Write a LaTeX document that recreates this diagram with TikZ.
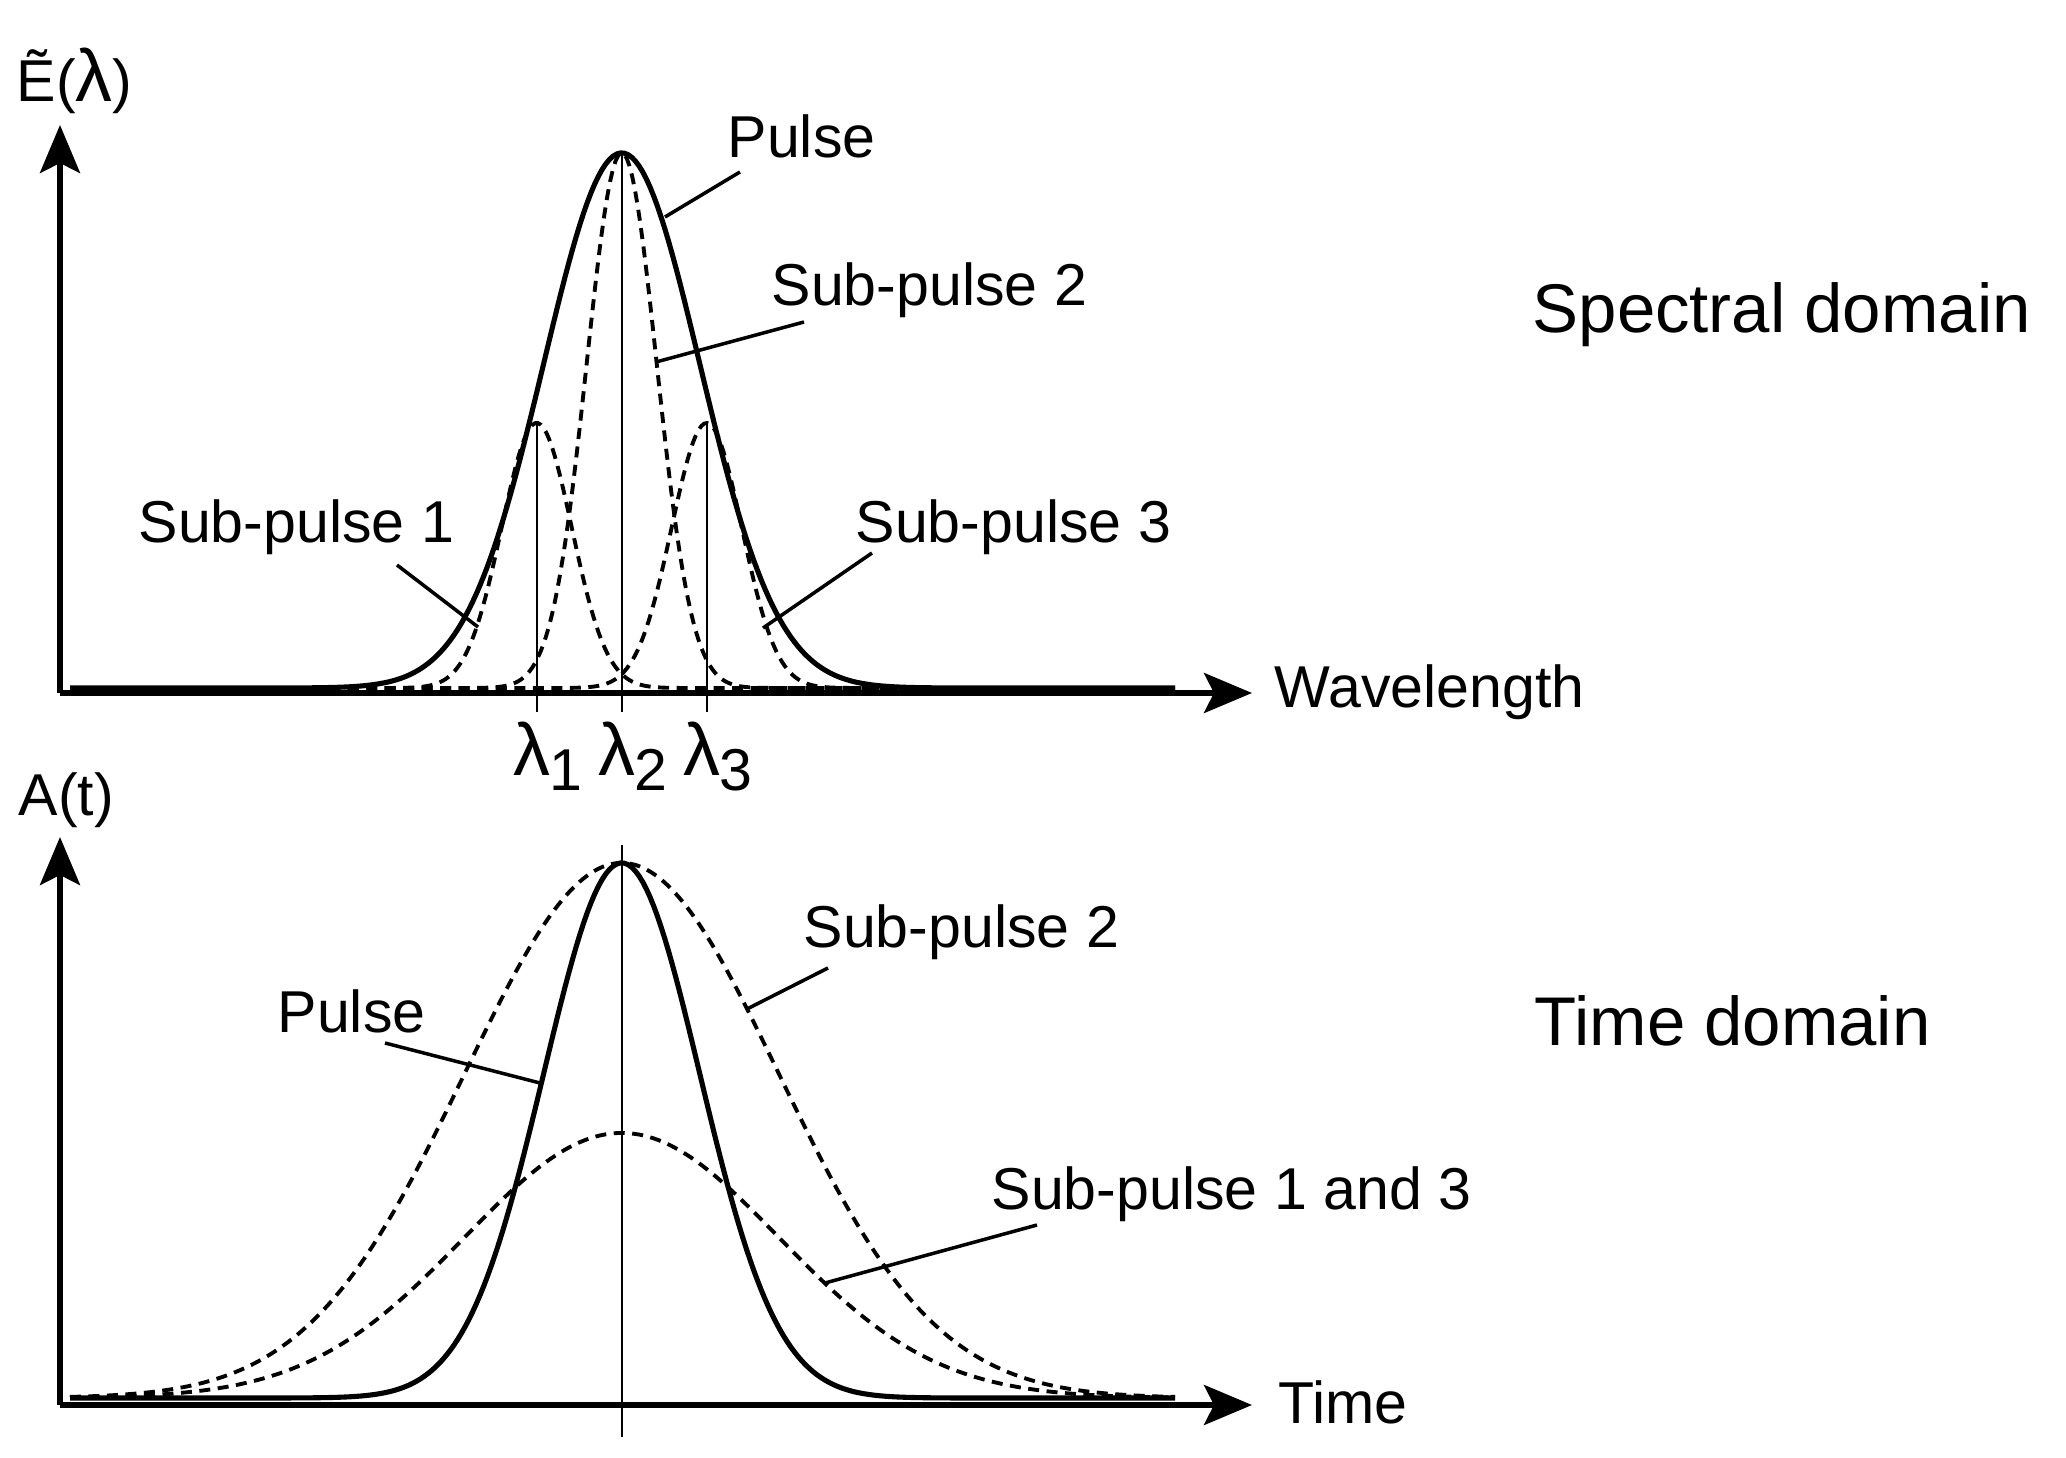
\documentclass[tikz,border=0pt]{standalone}
\usepackage{fontspec}
\setmainfont{Liberation Sans}
\usetikzlibrary{arrows.meta}

\newcommand{\biglam}{{\fontsize{21}{22}\selectfont λ}}

\begin{document}
\begin{tikzpicture}[x=0.01cm, y=-0.01cm,
    declare function={gss(\p,\m,\w)=exp(-0.5*((\p-\m)/\w)*((\p-\m)/\w));},
    axisline/.style={line width=1.5pt, -{Stealth[length=4.8mm, width=4mm, inset=1mm]}},
    pulse/.style={line width=1.45pt, line join=round},
    sub/.style={line width=1.1pt, dash pattern=on 1.1mm off 0.75mm},
    guide/.style={line width=0.55pt},
    lead/.style={line width=1pt},
    lbl/.style={font=\fontsize{16.8}{18}\selectfont, inner sep=0pt, anchor=base west},
    dom/.style={font=\fontsize{19.6}{22}\selectfont, inner sep=0pt, anchor=base west}]
     \useasboundingbox (0,0) rectangle (2066,1458);

     % axes
     \coordinate (O1) at (60,693);
     \coordinate (Y1) at (60,125);
     \coordinate (X1) at (1252,693);
     \coordinate (O2) at (60,1405);
     \coordinate (Y2) at (60,837);
     \coordinate (X2) at (1252,1405);

     % spectral domain
     \draw[pulse] plot[domain=70:1175, samples=300] (\x, {688-535*gss(\x,621.7,78)});
     \draw[sub] plot[domain=70:1175, samples=400] (\x, {688-535*gss(\x,621.7,35)});
     \draw[sub] plot[domain=70:1175, samples=400] (\x, {688-265*gss(\x,536.7,35)});
     \draw[sub] plot[domain=70:1175, samples=400] (\x, {688-265*gss(\x,706.7,35)});
     \foreach \i/\cx/\h in {1/536.7/423, 2/621.7/153, 3/706.7/423} {
       \draw[guide] (\cx,\h) -- (\cx,712);
       \node[lbl] (L\i) at (\cx-24,775) {\biglam\kern-0.02em\raisebox{-0.15cm}{\i}};
     }
     \draw[axisline] (O1) -- (Y1);
     \draw[axisline] (O1) -- (X1);

     % time domain
     \draw[pulse] plot[domain=70:1175, samples=300] (\x, {1398-535*gss(\x,621.7,78)});
     \draw[sub] plot[domain=70:1175, samples=300] (\x, {1398-535*gss(\x,621.7,157)});
     \draw[sub] plot[domain=70:1175, samples=300] (\x, {1398-265*gss(\x,621.7,157)});
     \draw[guide] (621.7,845) -- (621.7,1437);
     \draw[axisline] (O2) -- (Y2);
     \draw[axisline] (O2) -- (X2);

     % labels
     \node[lbl] (Elab) at (16,101.7) {Ẽ(\biglam)};
     \node[lbl] (Alab) at (18,815) {A(t)};
     \node[lbl] (wl) at (1274,708) {Wavelength};
     \node[lbl] (tm) at (1278,1423) {Time};
     \node[dom] (sd) at (1532,333) {Spectral domain};
     \node[dom] (td) at (1534,1045) {Time domain};
     \node[lbl] (pu1) at (727,158) {Pulse};
     \node[lbl] (sp2) at (771,306) {Sub-pulse 2};
     \node[lbl] (sp1) at (138,543) {Sub-pulse 1};
     \node[lbl] (sp3) at (855,543) {Sub-pulse 3};
     \node[lbl] (pu2) at (277,1032) {Pulse};
     \node[lbl] (tp2) at (803,947) {Sub-pulse 2};
     \node[lbl] (tp13) at (991,1209) {Sub-pulse 1 and 3};

     % leaders
     \coordinate (a1) at (740,172);   \coordinate (b1) at (665,217);
     \coordinate (a2) at (804,322);   \coordinate (b2) at (656,362);
     \coordinate (a3) at (397,565);   \coordinate (b3) at (478,627);
     \coordinate (a4) at (872,553);   \coordinate (b4) at (763,628);
     \coordinate (a5) at (385,1043);  \coordinate (b5) at (540,1083);
     \coordinate (a6) at (828,968);   \coordinate (b6) at (747,1009);
     \coordinate (a7) at (1037,1225); \coordinate (b7) at (825,1283);
     \foreach \k in {1,...,7}
       \draw[lead] (a\k) -- (b\k);

  \end{tikzpicture}
\end{document}
